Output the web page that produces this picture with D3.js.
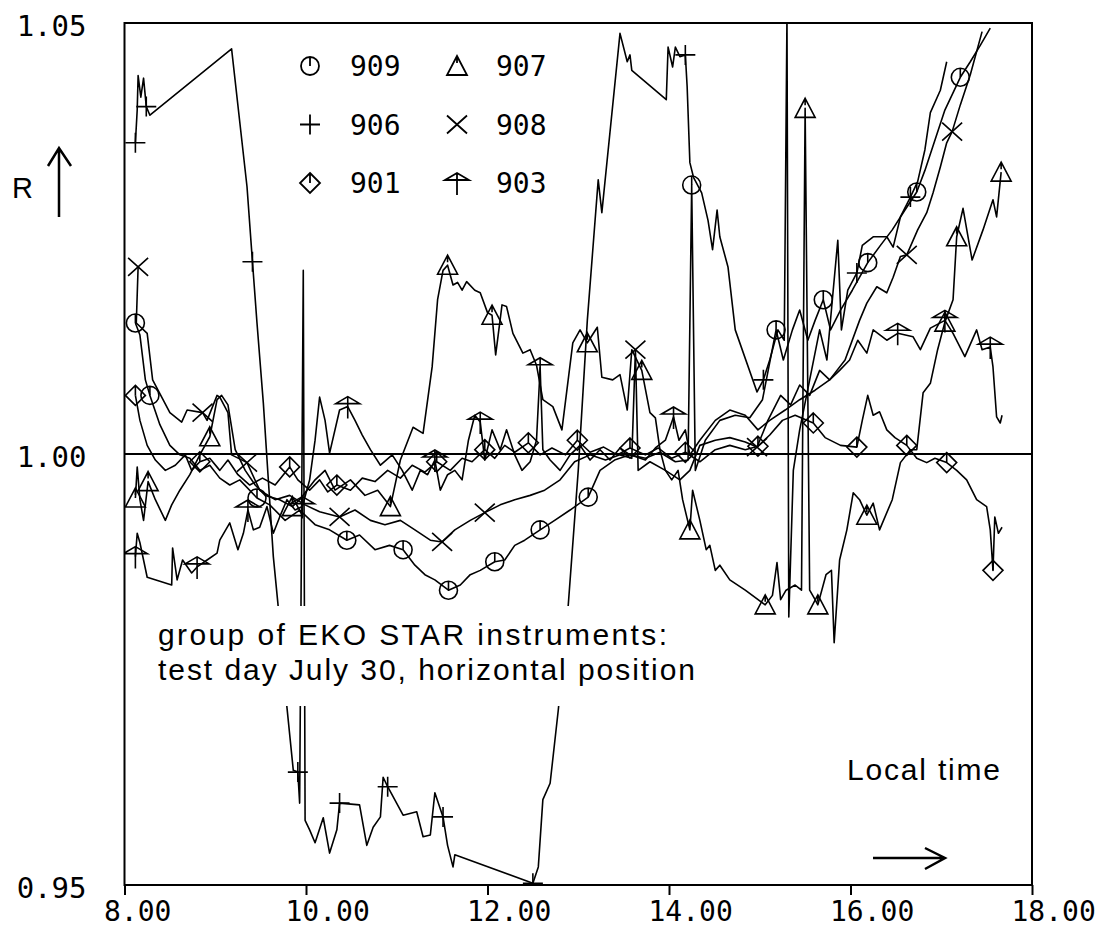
<!DOCTYPE html>
<html>
<head>
<meta charset="utf-8">
<script src="https://cdn.jsdelivr.net/npm/d3@7"></script>
<style>
  html, body { margin: 0; padding: 0; background: #fff; }
  svg { display: block; }
</style>
</head>
<body>
<svg id="chart" width="1104" height="930"></svg>
<script>
// each point: [local time (h), R, marker flag]
const s909 = [[8.12,1.0152,1],[8.17,1.0138],[8.23,1.0086],[8.28,1.0068,1],[8.39,1.0034],[8.50,1.0010],[8.61,0.9999],[8.72,0.9995],[8.83,0.9981],[8.94,0.9987],[9.05,0.9972],[9.16,0.9964],[9.27,0.9970],[9.46,0.9949,1],[9.60,0.9941],[9.77,0.9923],[9.93,0.9935],[10.10,0.9918],[10.26,0.9912],[10.45,0.9900,1],[10.59,0.9906],[10.76,0.9889],[10.92,0.9894],[11.07,0.9889,1],[11.20,0.9871],[11.31,0.9860],[11.42,0.9854],[11.57,0.9842,1],[11.70,0.9848],[11.81,0.9860],[11.92,0.9865],[12.08,0.9875,1],[12.19,0.9877],[12.30,0.9894],[12.41,0.9900],[12.58,0.9912,1],[12.74,0.9923],[12.91,0.9935],[13.11,0.9950,1],[13.24,0.9981],[13.40,0.9993],[13.57,0.9999],[13.74,0.9995],[13.90,1.0002],[14.07,0.9991],[14.21,0.9993],[14.25,1.0312,1],[14.29,0.9981],[14.40,1.0016],[14.56,1.0039],[14.73,1.0045],[14.89,1.0042],[15.03,1.0063],[15.18,1.0144,1],[15.26,1.0109],[15.36,1.0144],[15.44,1.0167],[15.53,1.0132],[15.61,1.0155],[15.70,1.0179,1],[15.78,1.0144],[15.89,1.0167],[16.02,1.0190],[16.19,1.0222,1],[16.33,1.0242],[16.46,1.0260],[16.60,1.0283],[16.73,1.0304,1],[16.82,1.0329],[16.93,1.0364],[17.04,1.0399],[17.21,1.0437,1],[17.32,1.0455],[17.43,1.0474],[17.54,1.0494]];

const s906 = [[8.12,1.0361,1],[8.14,1.0399],[8.15,1.0439],[8.18,1.0414],[8.21,1.0436],[8.24,1.0403,1],[8.28,1.0393],[9.18,1.0470],[9.35,1.0310],[9.41,1.0223,1],[9.46,1.0152],[9.53,1.0059],[9.58,0.9978],[9.64,0.9881],[9.69,0.9827],[9.79,0.9706],[9.86,0.9633],[9.91,0.9631,1],[9.93,0.9595],[9.97,1.0213],[9.99,0.9575],[10.04,0.9564],[10.10,0.9549],[10.19,0.9578],[10.26,0.9537],[10.34,0.9564],[10.37,0.9595,1],[10.59,0.9593],[10.67,0.9546],[10.74,0.9567],[10.82,0.9579],[10.85,0.9625],[10.90,0.9614,1],[11.07,0.9581],[11.22,0.9585],[11.29,0.9556],[11.37,0.9558],[11.42,0.9607],[11.51,0.9579,1],[11.56,0.9546],[11.62,0.9521],[11.64,0.9535],[12.50,0.9502,1],[12.56,0.9521],[12.61,0.9599],[12.69,0.9618],[12.78,0.9703],[12.89,0.9825],[13.00,0.9981],[13.10,1.0155],[13.22,1.0318],[13.26,1.0280],[13.46,1.0488],[13.54,1.0455],[13.57,1.0463],[13.59,1.0445],[13.97,1.0411],[13.99,1.0472],[14.04,1.0449],[14.07,1.0472],[14.12,1.0461],[14.18,1.0463,1],[14.20,1.0426],[14.23,1.0338],[14.27,1.0321],[14.36,1.0303],[14.43,1.0271],[14.48,1.0237],[14.53,1.0283],[14.56,1.0252],[14.65,1.0217],[14.73,1.0144],[14.97,1.0072],[15.04,1.0086,1],[15.11,1.0109],[15.20,1.0144],[15.27,1.0132],[15.30,1.0509],[15.32,0.9811],[15.37,0.9981],[15.44,1.0028],[15.55,1.0086],[15.66,1.0144],[15.74,1.0109],[15.80,1.0179],[15.86,1.0248],[15.90,1.0144],[15.97,1.0190],[16.07,1.0210,1],[16.13,1.0242],[16.25,1.0252],[16.40,1.0252],[16.47,1.0240],[16.55,1.0275],[16.66,1.0298,1],[16.74,1.0316],[16.82,1.0353],[16.88,1.0396],[16.99,1.0422],[17.06,1.0455]];

const s901 = [[8.12,1.0068,1],[8.17,1.0039],[8.25,1.0010],[8.34,0.9993],[8.45,0.9981],[8.56,0.9987],[8.67,0.9999],[8.74,0.9981],[8.83,0.9991,1],[8.94,0.9995],[9.05,0.9981],[9.14,0.9993],[9.25,0.9976],[9.38,0.9964],[9.52,0.9972],[9.66,0.9964],[9.82,0.9985,1],[9.91,0.9970],[10.04,0.9958],[10.15,0.9970],[10.24,0.9956],[10.34,0.9964,1],[10.49,0.9958],[10.62,0.9972],[10.76,0.9968],[10.90,0.9981],[11.04,0.9972],[11.17,0.9987],[11.31,0.9979],[11.44,0.9991,1],[11.59,0.9981],[11.72,0.9995],[11.83,0.9991],[11.97,1.0005,1],[12.08,0.9995],[12.19,1.0010],[12.30,1.0002],[12.45,1.0013,1],[12.58,0.9999],[12.71,1.0007],[12.86,0.9999],[12.99,1.0016,1],[13.13,1.0002],[13.28,1.0008],[13.43,0.9999],[13.57,1.0007,1],[13.74,0.9999],[13.88,1.0007],[14.03,0.9995],[14.18,1.0002,1],[14.34,0.9991],[14.51,1.0005],[14.67,1.0010],[14.84,1.0005],[14.98,1.0009,1],[15.11,1.0022],[15.25,1.0039],[15.39,1.0045],[15.59,1.0036,1],[15.72,1.0019],[15.89,1.0010],[16.07,1.0008,1],[16.13,1.0039],[16.19,1.0068],[16.25,1.0045],[16.32,1.0049],[16.40,1.0028],[16.49,1.0019],[16.62,1.0010,1],[16.73,0.9995],[16.84,0.9990],[16.93,0.9995],[17.06,0.9990,1],[17.17,0.9981],[17.28,0.9970],[17.39,0.9947],[17.50,0.9939],[17.54,0.9912],[17.57,0.9865,1],[17.59,0.9927],[17.63,0.9908],[17.67,0.9915]];

const s907 = [[8.12,0.9949,1],[8.14,0.9985],[8.17,0.9947],[8.21,0.9923],[8.26,0.9968,1],[8.34,0.9947],[8.45,0.9923],[8.52,0.9941],[8.61,0.9958],[8.72,0.9976],[8.83,0.9999],[8.94,1.0020,1],[9.02,1.0063],[9.07,1.0068],[9.14,1.0057],[9.22,1.0005],[9.33,0.9981],[9.44,0.9964],[9.55,0.9952],[9.71,0.9947],[9.85,0.9939,1],[9.93,0.9947],[10.10,0.9970],[10.21,0.9981],[10.32,0.9958],[10.49,0.9970],[10.65,0.9952],[10.79,0.9958],[10.93,0.9939,1],[11.04,0.9993],[11.18,1.0031],[11.29,1.0024],[11.39,1.0101],[11.45,1.0179],[11.51,1.0213],[11.56,1.0219,1],[11.62,1.0196],[11.67,1.0199],[11.72,1.0190],[11.77,1.0200],[11.86,1.0190],[11.92,1.0187],[12.00,1.0164],[12.05,1.0161,1],[12.09,1.0115],[12.16,1.0173],[12.21,1.0171],[12.28,1.0140],[12.39,1.0117],[12.47,1.0121],[12.54,1.0103],[12.61,1.0063],[12.72,1.0055],[12.82,1.0028],[12.94,1.0129],[13.02,1.0144],[13.10,1.0129,1],[13.21,1.0147],[13.26,1.0089],[13.38,1.0086],[13.46,1.0092],[13.54,1.0051],[13.59,1.0121],[13.70,1.0097,1],[13.79,1.0048],[13.85,1.0042],[13.90,1.0005],[13.96,0.9981],[14.03,0.9970],[14.10,0.9981],[14.15,0.9947],[14.23,0.9912,1],[14.26,0.9958],[14.34,0.9923],[14.41,0.9889],[14.45,0.9894],[14.51,0.9865],[14.56,0.9871],[14.67,0.9854],[14.84,0.9842],[15.06,0.9825,1],[15.14,0.9836],[15.19,0.9874],[15.23,0.9831],[15.29,0.9842],[15.39,0.9848],[15.46,0.9842],[15.50,1.0401,1],[15.55,0.9842],[15.61,0.9831],[15.64,0.9825,1],[15.73,0.9860],[15.79,0.9865],[15.82,0.9781],[15.88,0.9877],[15.96,0.9912],[16.03,0.9955],[16.10,0.9947],[16.18,0.9929,1],[16.25,0.9943],[16.32,0.9912],[16.46,0.9947],[16.55,0.9990],[16.66,1.0005],[16.73,1.0005],[16.80,1.0071],[16.88,1.0082],[16.96,1.0121],[17.04,1.0153,1],[17.13,1.0179],[17.17,1.0252,1],[17.24,1.0285],[17.34,1.0225],[17.46,1.0260],[17.57,1.0295],[17.61,1.0275],[17.66,1.0327,1]];

const s908 = [[8.15,1.0217,1],[8.13,1.0152],[8.25,1.0140],[8.31,1.0086],[8.50,1.0048],[8.63,1.0037],[8.69,1.0051],[8.86,1.0048,1],[8.91,1.0039],[9.02,1.0068],[9.05,1.0066],[9.14,1.0048],[9.18,0.9999],[9.35,0.9990,1],[9.49,0.9958],[9.66,0.9947],[9.82,0.9952],[9.99,0.9941],[10.15,0.9933],[10.37,0.9927,1],[10.54,0.9935],[10.71,0.9923],[10.87,0.9918],[11.04,0.9923],[11.20,0.9912],[11.37,0.9900],[11.50,0.9898,1],[11.64,0.9912],[11.81,0.9923],[11.97,0.9932,1],[12.14,0.9941],[12.30,0.9947],[12.47,0.9952],[12.63,0.9958],[12.80,0.9970],[12.96,0.9991],[13.13,0.9999],[13.30,0.9993],[13.46,0.9999],[13.59,0.9995],[13.63,1.0121,1],[13.66,0.9981],[13.79,0.9991],[13.96,0.9981],[14.12,0.9970],[14.23,0.9981],[14.34,1.0010],[14.51,1.0016],[14.67,1.0019],[14.84,1.0014],[14.97,1.0008,1],[15.09,1.0039],[15.23,1.0068],[15.34,1.0057],[15.44,1.0080],[15.55,1.0068],[15.66,1.0097],[15.77,1.0086],[15.94,1.0109],[16.10,1.0155],[16.18,1.0175],[16.29,1.0194],[16.40,1.0187],[16.47,1.0205],[16.55,1.0229],[16.62,1.0231,1],[16.74,1.0260],[16.84,1.0280],[16.91,1.0303],[16.99,1.0333],[17.06,1.0361],[17.12,1.0374,1],[17.21,1.0405],[17.32,1.0440],[17.45,1.0490]];

const s903 = [[8.12,0.9881,1],[8.14,0.9908],[8.17,0.9897],[8.25,0.9857],[8.52,0.9848],[8.53,0.9891],[8.58,0.9854],[8.64,0.9877],[8.74,0.9862],[8.80,0.9869,1],[8.91,0.9877],[9.02,0.9885],[9.05,0.9900],[9.16,0.9920],[9.25,0.9889],[9.31,0.9908],[9.36,0.9935,1],[9.42,0.9912],[9.49,0.9915],[9.57,0.9939],[9.64,0.9908],[9.71,0.9927],[9.79,0.9947],[9.88,0.9935],[9.96,0.9939,1],[10.04,0.9970],[10.10,1.0016],[10.15,1.0066],[10.21,1.0039],[10.26,1.0001],[10.37,1.0051],[10.46,1.0055,1],[10.54,1.0039],[10.62,1.0022],[10.71,1.0005],[10.82,0.9987],[10.95,0.9999],[11.06,0.9981],[11.17,0.9958],[11.26,0.9981],[11.34,0.9976],[11.42,0.9993,1],[11.48,0.9958],[11.56,0.9976],[11.64,0.9981],[11.72,0.9970],[11.79,1.0016],[11.86,1.0045],[11.92,1.0037,1],[11.97,0.9993],[12.05,1.0028],[12.14,1.0005],[12.21,1.0028],[12.30,0.9999],[12.38,0.9981],[12.47,0.9991],[12.54,1.0016],[12.58,1.0100,1],[12.61,1.0005],[12.69,0.9993],[12.80,0.9981],[12.91,0.9999],[13.02,1.0010],[13.13,0.9993],[13.24,1.0005],[13.35,0.9993],[13.46,1.0007],[13.57,0.9999],[13.74,0.9993],[13.85,1.0007],[13.96,1.0016],[14.05,1.0043,1],[14.11,1.0016],[14.18,1.0028],[14.23,0.9999],[14.34,1.0016],[14.51,1.0039],[14.67,1.0051],[14.84,1.0045],[14.98,1.0028],[15.11,1.0039],[15.28,1.0051],[15.44,1.0063],[15.61,1.0074],[15.77,1.0086],[15.88,1.0097],[15.99,1.0109],[16.08,1.0132],[16.18,1.0117],[16.25,1.0144],[16.40,1.0132],[16.52,1.0140,1],[16.69,1.0136],[16.77,1.0121],[16.88,1.0146],[17.04,1.0155,1],[17.13,1.0140],[17.26,1.0113],[17.39,1.0144],[17.45,1.0121],[17.54,1.0124,1],[17.57,1.0101],[17.61,1.0043],[17.65,1.0036],[17.67,1.0045]];

const seriesNames = ["909", "906", "901", "907", "908", "903"];
const seriesData = [s909, s906, s901, s907, s908, s903];
const seriesSymbols = ["circleTick", "plus", "diamondTick", "triangle", "cross", "arrow"];

const xTicks = [8, 10, 12, 14, 16, 18];
const yTicks = [0.95, 1.00, 1.05];

const svg = d3.select("#chart");
const X0 = 124.5, X1 = 1032, Y0 = 23, Y1 = 885;

const x = d3.scaleLinear().domain([8, 18]).range([X0, X1]);
const y = d3.scaleLinear().domain([0.95, 1.05]).range([Y1, Y0]);

const plotterFont = "'DejaVu Sans Mono', monospace";
const textFont = "'Liberation Sans', Arial, sans-serif";

// marker glyphs, centred on the data point
function symbolPath(type) {
	switch (type) {
		case "circleTick":
			return "M-9,0 A9,9 0 1,0 9,0 A9,9 0 1,0 -9,0 M0,-9 L0,0";
		case "plus":
			return "M-10,0 L10,0 M0,-10 L0,10";
		case "diamondTick":
			return "M0,-10 L10,0 L0,10 L-10,0 Z M0,-10 L0,0";
		case "triangle":
			return "M0,-10 L10,9 L-10,9 Z M0,-10 L0,-3";
		case "cross":
			return "M-10,-9 L10,9 M10,-9 L-10,9";
		case "arrow":
			return "M-12,-3 L0,-10 L12,-3 Z M0,-10 L0,12";
	}
}

svg.append("rect").attr("width", 1104).attr("height", 930).attr("fill", "#fff");

svg.append("defs")
	.append("clipPath")
	.attr("id", "plotClip")
	.append("rect")
	.attr("x", X0).attr("y", Y0)
	.attr("width", X1 - X0).attr("height", Y1 - Y0);

// reference line R = 1
svg.append("line")
	.attr("x1", X0).attr("x2", X1)
	.attr("y1", y(1)).attr("y2", y(1))
	.attr("stroke", "#000")
	.attr("stroke-width", 2);

const line = d3.line()
	.x(d => x(d[0]))
	.y(d => y(d[1]));

const gSeries = svg.append("g").attr("clip-path", "url(#plotClip)");

seriesData.forEach((data, i) => {
	gSeries.append("path")
		.attr("d", line(data))
		.attr("fill", "none")
		.attr("stroke", "#000")
		.attr("stroke-width", 1.6)
		.attr("stroke-linejoin", "round");

	gSeries.append("g")
		.selectAll("path")
		.data(data.filter(d => d[2]))
		.enter()
		.append("path")
		.attr("transform", d => `translate(${x(d[0])},${y(d[1])})`)
		.attr("d", symbolPath(seriesSymbols[i]))
		.attr("fill", "none")
		.attr("stroke", "#000")
		.attr("stroke-width", 1.6);
});

// frame
svg.append("rect")
	.attr("x", X0).attr("y", Y0)
	.attr("width", X1 - X0).attr("height", Y1 - Y0)
	.attr("fill", "none")
	.attr("stroke", "#000")
	.attr("stroke-width", 2);

// x axis
const xAxis = d3.axisBottom(x)
	.tickValues(xTicks)
	.tickSize(10)
	.tickFormat(d => d.toFixed(2));

svg.append("g")
	.attr("transform", `translate(0, ${Y1})`)
	.call(xAxis)
	.call(g => g.select(".domain").remove())
	.call(g => g.selectAll(".tick line").attr("stroke", "#000").attr("stroke-width", 2))
	.call(g => g.selectAll(".tick text")
		.attr("x", -21)
		.attr("y", 36)
		.attr("dy", null)
		.attr("text-anchor", "start")
		.attr("font-family", plotterFont)
		.attr("font-size", 28)
		.attr("fill", "#000"));

// y axis
const yAxis = d3.axisLeft(y)
	.tickValues(yTicks)
	.tickSize(0)
	.tickFormat(d => d.toFixed(2));

svg.append("g")
	.attr("transform", `translate(${X0}, 0)`)
	.call(yAxis)
	.call(g => g.select(".domain").remove())
	.call(g => g.selectAll(".tick text")
		.attr("x", -38)
		.attr("dy", 12)
		.attr("text-anchor", "end")
		.attr("font-family", plotterFont)
		.attr("font-size", 29)
		.attr("fill", "#000"));

// y label with arrow
svg.append("text")
	.attr("x", 12).attr("y", 198)
	.attr("font-family", textFont)
	.attr("font-size", 29)
	.text("R");

svg.append("path")
	.attr("d", "M59,217 L59,149 M48,166 L59,148 L71,166")
	.attr("fill", "none")
	.attr("stroke", "#000")
	.attr("stroke-width", 2.5);

// legend
const legend = svg.append("g");
seriesNames.forEach((name, i) => {
	const col = Math.floor(i / 3);
	const row = i % 3;
	const mx = col === 0 ? 310 : 457;
	const tx = col === 0 ? 350 : 496;
	const cy = 66 + row * 58.5;
	legend.append("path")
		.attr("transform", `translate(${mx},${cy})`)
		.attr("d", symbolPath(seriesSymbols[i]))
		.attr("fill", "none")
		.attr("stroke", "#000")
		.attr("stroke-width", 1.8);
	legend.append("text")
		.attr("x", tx)
		.attr("y", cy + 10)
		.attr("font-family", plotterFont)
		.attr("font-size", 28)
		.text(name);
});

// annotation box hides the curves below it
svg.append("rect")
	.attr("x", 150).attr("y", 606)
	.attr("width", 556).attr("height", 100)
	.attr("fill", "#fff");

svg.append("text")
	.attr("x", 158).attr("y", 645)
	.attr("font-family", textFont)
	.attr("font-size", 30)
	.attr("textLength", 509)
	.attr("lengthAdjust", "spacing")
	.text("group of EKO STAR instruments:");

svg.append("text")
	.attr("x", 158).attr("y", 680)
	.attr("font-family", textFont)
	.attr("font-size", 30)
	.attr("textLength", 537)
	.attr("lengthAdjust", "spacing")
	.text("test day July 30, horizontal position");

svg.append("text")
	.attr("x", 847).attr("y", 780)
	.attr("font-family", textFont)
	.attr("font-size", 30)
	.attr("textLength", 153)
	.attr("lengthAdjust", "spacing")
	.text("Local time");

svg.append("path")
	.attr("d", "M873,858 L943,858 M925,848 L945,858 L925,869")
	.attr("fill", "none")
	.attr("stroke", "#000")
	.attr("stroke-width", 2.5);
</script>
</body>
</html>
